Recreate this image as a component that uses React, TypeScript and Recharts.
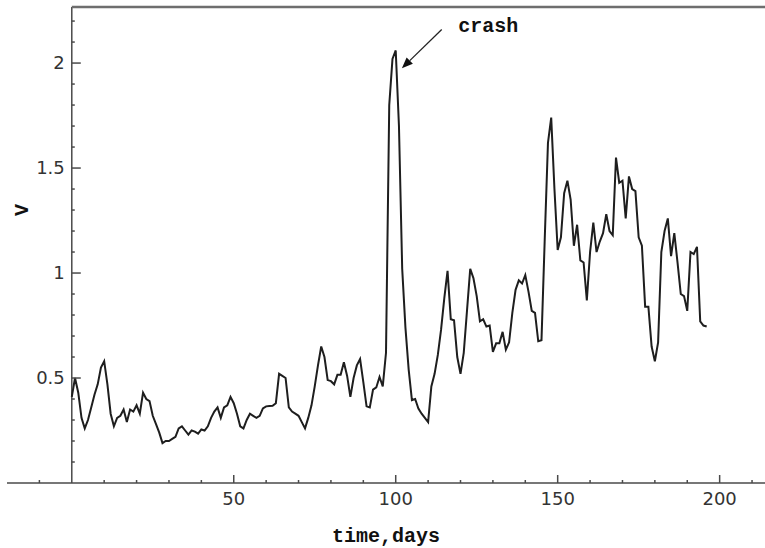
import React from "react";
import { Line, LineChart, ReferenceDot, ReferenceLine, XAxis, YAxis } from "recharts";

// daily readings of V, one per day starting at day 0
const vValues = [
  0.41, 0.5, 0.43, 0.31, 0.26, 0.3, 0.36, 0.42, 0.47, 0.55,
  0.58, 0.47, 0.33, 0.27, 0.31, 0.32, 0.35, 0.29, 0.35, 0.34,
  0.37, 0.33, 0.43, 0.4, 0.39, 0.32, 0.28, 0.24, 0.19, 0.2,
  0.2, 0.21, 0.22, 0.26, 0.27, 0.25, 0.23, 0.25, 0.245, 0.235,
  0.255, 0.25, 0.27, 0.31, 0.34, 0.36, 0.31, 0.36, 0.37, 0.41,
  0.38, 0.33, 0.27, 0.26, 0.3, 0.33, 0.32, 0.31, 0.32, 0.355,
  0.365, 0.367, 0.368, 0.38, 0.52, 0.51, 0.5, 0.36, 0.34, 0.33,
  0.32, 0.29, 0.26, 0.31, 0.37, 0.46, 0.56, 0.65, 0.6, 0.49,
  0.485, 0.47, 0.515, 0.515, 0.575, 0.51, 0.41, 0.5, 0.56, 0.59,
  0.48, 0.365, 0.36, 0.445, 0.455, 0.505, 0.46, 0.62, 1.8, 2.02,
  2.06, 1.7, 1.02, 0.74, 0.54, 0.395, 0.4, 0.355, 0.33, 0.31,
  0.29, 0.46, 0.52, 0.61, 0.73, 0.88, 1.01, 0.78, 0.775, 0.6,
  0.52, 0.62, 0.82, 1.02, 0.975, 0.89, 0.77, 0.78, 0.745, 0.75,
  0.625, 0.665, 0.665, 0.72, 0.635, 0.67, 0.81, 0.92, 0.965, 0.95,
  0.99, 0.91, 0.82, 0.81, 0.675, 0.68, 1.16, 1.62, 1.74, 1.4,
  1.11, 1.17, 1.38, 1.44, 1.35, 1.13, 1.23, 1.06, 1.05, 0.87,
  1.1, 1.24, 1.1, 1.15, 1.19, 1.28, 1.2, 1.18, 1.55, 1.43,
  1.44, 1.26, 1.46, 1.4, 1.39, 1.17, 1.13, 0.84, 0.84, 0.65,
  0.58, 0.67, 1.1, 1.2, 1.26, 1.08, 1.19, 1.05, 0.9, 0.89,
  0.82, 1.1, 1.09, 1.125, 0.77, 0.75, 0.745
];
const days = vValues.map((_, i) => i);

const xMajorTicks = [50, 100, 150, 200];
const xMinorTicks = [-10, 10, 20, 30, 40, 60, 70, 80, 90, 110, 120, 130, 140, 160, 170, 180, 190, 210];
const yMajorTicks = [0.5, 1, 1.5, 2];
const yMinorTicks = [
  0.1, 0.2, 0.3, 0.4, 0.6, 0.7, 0.8, 0.9, 1.1, 1.2, 1.3, 1.4,
  1.6, 1.7, 1.8, 1.9, 2.1, 2.2
];

// annotation: label anchor, arrow tail and arrow head (data space)
const crashLabel = { day: 119.3, v: 2.148, text: "crash" };
const crashArrow = [
  { x: 114.2, y: 2.16 },
  { x: 101.9, y: 1.975 }
];

const W = 765;
const H = 548;
const X_DOMAIN: [number, number] = [-20, 214];
const Y_DOMAIN: [number, number] = [0, 2.267];
const MARGIN = { top: 7, right: 0, bottom: 0, left: 0 };
const Y_AXIS_WIDTH = 7;
const X_AXIS_HEIGHT = 65;
const PLOT_W = W - MARGIN.left - MARGIN.right - Y_AXIS_WIDTH;
// the vertical axis crosses at day 0, not at the left edge of the plot
const Y_AXIS_SHIFT = ((0 - X_DOMAIN[0]) / (X_DOMAIN[1] - X_DOMAIN[0])) * PLOT_W;

const AXIS_COLOR = "#4a4a4a";
const TICK_FONT = { fontFamily: "DejaVu Sans", fontSize: 18, fill: "#333" };
const MONO_FONT = { fontFamily: "Liberation Mono", fontSize: 20, fontWeight: 700, fill: "#111" };

const data = days.map((day, i) => ({ day, v: vValues[i] }));

function XTick(props: any) {
  const { x, y, payload } = props;
  const major = xMajorTicks.includes(payload.value);
  return (
    <g>
      <line x1={x} x2={x} y1={y} y2={y - (major ? 8 : 3)} stroke={AXIS_COLOR} strokeWidth={1.5} />
      {major && (
        <text x={x} y={y + 22} textAnchor="middle" {...TICK_FONT}>
          {payload.value}
        </text>
      )}
    </g>
  );
}

function YTick(props: any) {
  const { x, y, payload } = props;
  const ax = x + Y_AXIS_SHIFT;
  const major = yMajorTicks.includes(payload.value);
  return (
    <g>
      <line x1={ax} x2={ax + (major ? 9 : 3)} y1={y} y2={y} stroke={AXIS_COLOR} strokeWidth={1.5} />
      {major && (
        <text x={ax - 7} y={y + 6} textAnchor="end" {...TICK_FONT}>
          {payload.value}
        </text>
      )}
    </g>
  );
}

function YTitle() {
  return (
    <text x={21} y={210} dy={7} textAnchor="middle" transform="rotate(-90 21 210)" {...MONO_FONT}>
      V
    </text>
  );
}

function Arrow(props: any) {
  const { x1, y1, x2, y2 } = props;
  const ang = Math.atan2(y2 - y1, x2 - x1);
  const len = 11;
  const half = 4.5;
  const bx = x2 - len * Math.cos(ang);
  const by = y2 - len * Math.sin(ang);
  const px = -Math.sin(ang) * half;
  const py = Math.cos(ang) * half;
  return (
    <g>
      <line x1={x1} y1={y1} x2={bx} y2={by} stroke="#222" strokeWidth={1.3} />
      <polygon points={`${x2},${y2} ${bx + px},${by + py} ${bx - px},${by - py}`} fill="#111" />
    </g>
  );
}

function CrashText(props: any) {
  const { cx, cy } = props;
  return (
    <text x={cx} y={cy} {...MONO_FONT}>
      {crashLabel.text}
    </text>
  );
}

export default function App() {
  return (
    <div style={{ position: "absolute", left: 0, top: 0, width: W, height: H, background: "#fff" }}>
      <LineChart width={W} height={H} data={data} margin={MARGIN}>
        <XAxis
          type="number"
          dataKey="day"
          domain={X_DOMAIN}
          allowDataOverflow
          ticks={[...xMinorTicks, ...xMajorTicks].sort((a, b) => a - b)}
          interval={0}
          height={X_AXIS_HEIGHT}
          axisLine={{ stroke: AXIS_COLOR, strokeWidth: 1.5 }}
          tickLine={false}
          tickSize={0}
          tickMargin={0}
          tick={<XTick />}
          label={{ value: "time,days", position: "insideBottom", offset: 6, ...MONO_FONT }}
        />
        <YAxis
          type="number"
          domain={Y_DOMAIN}
          allowDataOverflow
          ticks={[...yMinorTicks, ...yMajorTicks].sort((a, b) => a - b)}
          interval={0}
          width={Y_AXIS_WIDTH}
          axisLine={false}
          tickLine={false}
          tickSize={0}
          tickMargin={0}
          tick={<YTick />}
          label={<YTitle />}
        />
        <ReferenceLine x={0} stroke={AXIS_COLOR} strokeWidth={1.5} />
        <ReferenceLine
          segment={[
            { x: 0, y: Y_DOMAIN[1] },
            { x: X_DOMAIN[1], y: Y_DOMAIN[1] }
          ]}
          stroke="#6e6e6e"
          strokeWidth={2.5}
        />
        <Line
          type="linear"
          dataKey="v"
          stroke="#1e1e1e"
          strokeWidth={2}
          dot={false}
          activeDot={false}
          isAnimationActive={false}
        />
        <ReferenceLine segment={crashArrow} shape={<Arrow />} />
        <ReferenceDot x={crashLabel.day} y={crashLabel.v} r={0} shape={<CrashText />} />
      </LineChart>
    </div>
  );
}
